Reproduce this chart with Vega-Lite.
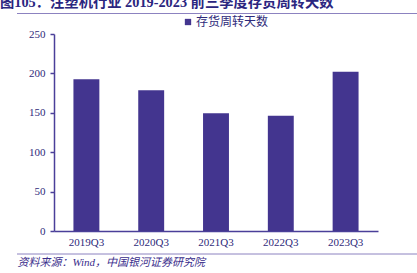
{
  "$schema": "https://vega.github.io/schema/vega-lite/v6.json",
  "width": 324,
  "height": 218,
  "autosize": {"type": "none"},
  "padding": {"left": 54, "top": 13, "right": 39, "bottom": 42},
  "background": "white",
  "config": {
    "view": {"stroke": null},
    "font": "Liberation Serif, Noto Sans CJK SC",
    "axis": {"labelFont": "Liberation Serif", "labelColor": "#2E2A7A", "labelFontSize": 11}
  },
  "title": {
    "text": "图105：注塑机行业 2019-2023 前三季度存货周转天数",
    "anchor": "start",
    "frame": "group",
    "dx": -54,
    "offset": 3,
    "fontSize": 14.3,
    "fontWeight": "bold",
    "color": "#2B2680",
    "font": "Liberation Serif, Noto Sans CJK SC"
  },
  "data": {
    "values": [
      {"q": "2019Q3", "v": 192.5, "s": "存货周转天数"},
      {"q": "2020Q3", "v": 178.6, "s": "存货周转天数"},
      {"q": "2021Q3", "v": 149.4, "s": "存货周转天数"},
      {"q": "2022Q3", "v": 146.3, "s": "存货周转天数"},
      {"q": "2023Q3", "v": 202.2, "s": "存货周转天数"}
    ]
  },
  "layer": [
    {
      "mark": {"type": "bar"},
      "encoding": {
        "x": {
          "field": "q", "type": "nominal", "sort": null,
          "scale": {"paddingInner": 0.6, "paddingOuter": 0.3},
          "axis": {
            "title": "资料来源：Wind，中国银河证券研究院",
            "titleX": -37, "titleY": 31, "titleAlign": "left", "titleBaseline": "middle",
            "titleFontStyle": "italic", "titleFontWeight": "normal", "titleFontSize": 11,
            "titleColor": "#3A2E8C", "titleFont": "Liberation Serif, Noto Sans CJK SC",
            "labelAngle": 0, "ticks": false, "labelPadding": 5,
            "domainColor": "#4A3F99", "domainWidth": 1.5
          }
        },
        "y": {
          "field": "v", "type": "quantitative",
          "scale": {"domain": [0, 250], "range": [218, 21]},
          "axis": {
            "title": null, "values": [0, 50, 100, 150, 200, 250], "grid": false,
            "tickSize": 4, "tickColor": "#4A3F99", "tickWidth": 1.5, "labelPadding": 5,
            "domainColor": "#4A3F99", "domainWidth": 1.5
          }
        },
        "color": {
          "field": "s", "type": "nominal",
          "scale": {"range": ["#43358F"]},
          "legend": {
            "title": null, "orient": "none", "legendX": 128, "legendY": 3,
            "symbolType": "square", "symbolSize": 40, "labelFontSize": 12,
            "labelColor": "#2E2A7A", "labelFont": "Noto Sans CJK SC", "labelOffset": 2
          }
        }
      }
    },
    {
      "data": {"values": [{"k": 1}]},
      "mark": {"type": "rule", "color": "#8C82C0", "strokeWidth": 1.2},
      "encoding": {
        "x": {"value": -37}, "x2": {"value": 363},
        "y": {"value": 0.5}
      }
    },
    {
      "data": {"values": [{"k": 2}]},
      "mark": {"type": "rule", "color": "#8C82C0", "strokeWidth": 1},
      "encoding": {
        "x": {"value": -37}, "x2": {"value": 363},
        "y": {"value": 241}
      }
    }
  ]
}
